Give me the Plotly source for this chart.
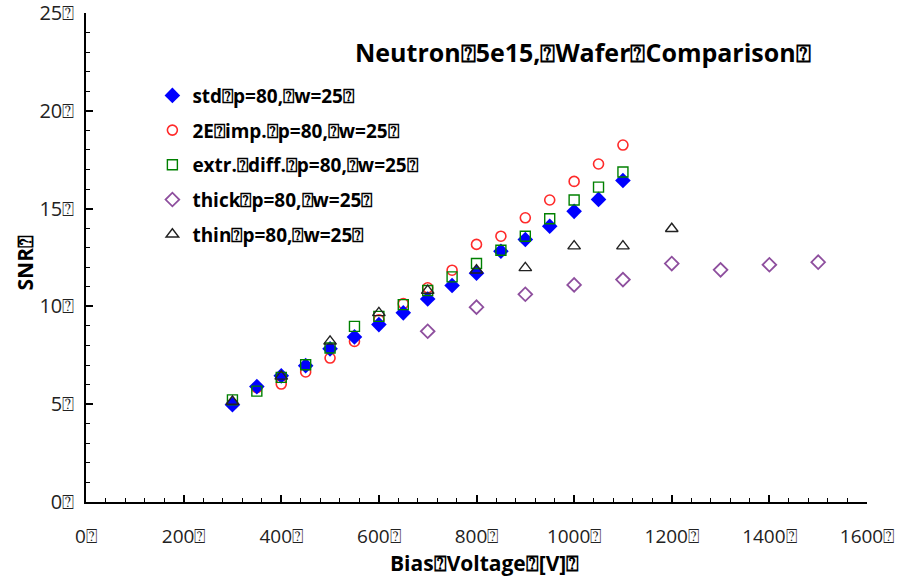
import plotly.graph_objects as go

Q = "\u2370"  # missing-glyph box as shown in the reference

# Bias voltage [V]
v_std = [300, 350, 400, 450, 500, 550, 600, 650, 700, 750, 800, 850, 900, 950, 1000, 1050, 1100]
snr_std = [4.97, 5.9, 6.45, 6.97, 7.83, 8.44, 9.07, 9.67, 10.38, 11.07, 11.7, 12.82, 13.42, 14.1, 14.86, 15.47, 16.44]

v_2e = [300, 350, 400, 450, 500, 550, 600, 650, 700, 750, 800, 850, 900, 950, 1000, 1050, 1100]
snr_2e = [5.0, 5.85, 6.03, 6.65, 7.36, 8.21, 9.32, 10.14, 10.95, 11.85, 13.17, 13.59, 14.53, 15.44, 16.39, 17.28, 18.25]

v_ext = [300, 350, 400, 450, 500, 550, 600, 650, 700, 750, 800, 850, 900, 950, 1000, 1050, 1100]
snr_ext = [5.22, 5.67, 6.37, 7.02, 7.87, 8.98, 9.49, 10.09, 10.81, 11.51, 12.19, 12.87, 13.59, 14.48, 15.44, 16.1, 16.87]

v_thick = [700, 800, 900, 1000, 1100, 1200, 1300, 1400, 1500]
snr_thick = [8.73, 9.96, 10.62, 11.1, 11.37, 12.19, 11.87, 12.13, 12.26]

v_thin = [300, 400, 500, 600, 700, 800, 900, 1000, 1100, 1200]
snr_thin = [5.14, 6.42, 8.21, 9.67, 10.81, 11.85, 11.97, 13.08, 13.08, 13.97]

x_ticks = [0, 200, 400, 600, 800, 1000, 1200, 1400, 1600]
y_ticks = [0, 5, 10, 15, 20, 25]

names = {
    "std": f"std{Q}p=80,{Q}w=25{Q}",
    "2e": f"2E{Q}imp.{Q}p=80,{Q}w=25{Q}",
    "ext": f"extr.{Q}diff.{Q}p=80,{Q}w=25{Q}",
    "thick": f"thick{Q}p=80,{Q}w=25{Q}",
    "thin": f"thin{Q}p=80,{Q}w=25{Q}",
}

FONT = "Open Sans"

fig = go.Figure()
fig.add_trace(go.Scatter(x=v_2e, y=snr_2e, mode="markers", name=names["2e"], legendrank=2,
                         legendgroup="b",
                         marker=dict(symbol="circle-open", size=10, color="#ff2a2a", line=dict(width=1.6))))
fig.add_trace(go.Scatter(x=v_std, y=snr_std, mode="markers", name=names["std"], legendrank=1,
                         legendgroup="a",
                         marker=dict(symbol="diamond", size=12, color="#0000ff", line=dict(width=0))))
fig.add_trace(go.Scatter(x=v_ext, y=snr_ext, mode="markers", name=names["ext"], legendrank=3,
                         legendgroup="c",
                         marker=dict(symbol="square-open", size=10, color="#008000", line=dict(width=1.4))))
fig.add_trace(go.Scatter(x=v_thick, y=snr_thick, mode="markers", name=names["thick"], legendrank=4,
                         legendgroup="d",
                         marker=dict(symbol="diamond-open", size=10.5, color="#8e4f9e", line=dict(width=1.8))))
fig.add_trace(go.Scatter(x=v_thin, y=snr_thin, mode="markers", name=names["thin"], legendrank=5,
                         legendgroup="e",
                         marker=dict(symbol="triangle-up-open", size=11, color="#222222", line=dict(width=1.4))))

fig.update_layout(
    width=916, height=579,
    margin=dict(l=86, r=49, t=13, b=77),
    paper_bgcolor="white", plot_bgcolor="white",
    font=dict(family=FONT, color="#000000"),
    showlegend=True,
    legend=dict(x=0.085, y=0.87, xanchor="left", yanchor="top",
                font=dict(family=FONT, size=19, color="#000000", weight="bold"),
                tracegroupgap=7, bgcolor="rgba(0,0,0,0)", itemwidth=30),
    xaxis=dict(range=[0, 1600], tickvals=x_ticks, ticktext=[f"{t}{Q}" for t in x_ticks],
               showgrid=False, zeroline=False, showline=True, linecolor="#000000", linewidth=1.5,
               ticks="inside", ticklen=7, tickwidth=1.5, tickcolor="#000000",
               tickfont=dict(family=FONT, size=19, color="#222222"), ticklabelstandoff=16,
               ticklabeloverflow="allow", automargin=False,
               minor=dict(dtick=40, ticks="inside", ticklen=4, tickwidth=1, tickcolor="#000000")),
    yaxis=dict(range=[0, 25], tickvals=y_ticks, ticktext=[f"{t}{Q}" for t in y_ticks],
               showgrid=False, zeroline=False, showline=True, linecolor="#000000", linewidth=1.5,
               ticks="inside", ticklen=7, tickwidth=1.5, tickcolor="#000000",
               tickfont=dict(family=FONT, size=20, color="#222222"), ticklabelstandoff=6,
               ticklabeloverflow="allow", automargin=False,
               minor=dict(dtick=1, ticks="inside", ticklen=4, tickwidth=1, tickcolor="#000000")),
    annotations=[
        dict(text=f"Neutron{Q}5e15,{Q}Wafer{Q}Comparison{Q}", x=0.636, y=0.92, xref="paper", yref="paper",
             xanchor="center", yanchor="middle",
             showarrow=False, font=dict(family=FONT, size=25, weight="bold", color="#000000")),
        dict(text=f"Bias{Q}Voltage{Q}[V]{Q}", x=0.51, y=-0.125, xref="paper", yref="paper",
             xanchor="center", yanchor="middle",
             showarrow=False, font=dict(family=FONT, size=21, weight="bold", color="#000000")),
        dict(text=f"SNR{Q}", x=-0.078, y=0.49, xref="paper", yref="paper", textangle=-90,
             xanchor="center", yanchor="middle",
             showarrow=False, font=dict(family=FONT, size=21, weight="bold", color="#000000")),
    ],
)

fig.write_html("out.html")
